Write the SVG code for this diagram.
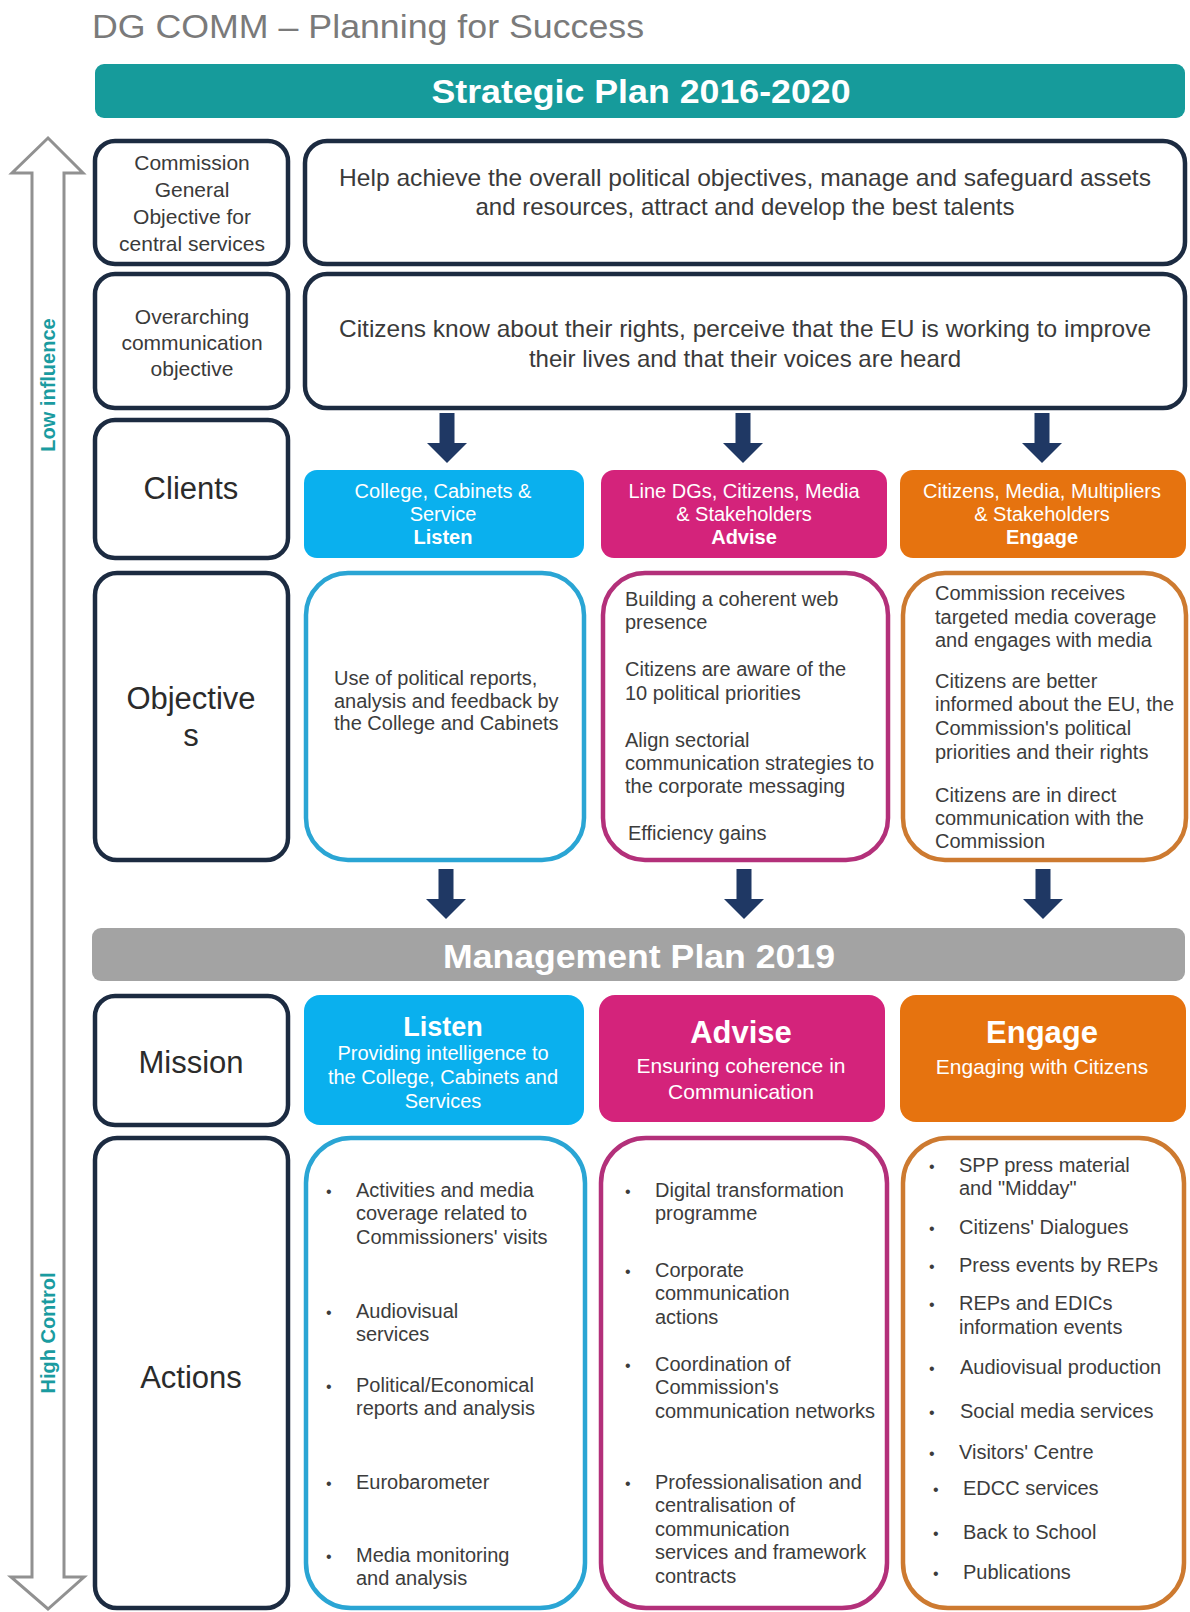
<svg xmlns="http://www.w3.org/2000/svg" xmlns:xlink="http://www.w3.org/1999/xlink" width="1190" height="1612" viewBox="0 0 1190 1612">
<style>
text{font-family:"Liberation Sans",Arial,sans-serif}
.navy{fill:#fff;stroke:#1c2b41;stroke-width:4.5}
.lbl{font-size:21px;fill:#3a3a3a;text-anchor:middle}
.big{font-size:31px;fill:#2b2b2b;text-anchor:middle}
.wide{font-size:24px;fill:#3a3a3a;text-anchor:middle}
.body{font-size:20px;fill:#3c3c3c}
.bul{font-size:16px;fill:#3c3c3c}
.wt{fill:#fff;text-anchor:middle}
.cli{font-size:20px}
.b{font-weight:bold}
.bar{font-size:33px;font-weight:bold;fill:#fff;text-anchor:middle}
.side{font-size:20px;font-weight:bold;fill:#1a9ba0;text-anchor:middle}
.arr{fill:#1f3864}
</style>
<defs>
<path id="down" d="M-7.5,0 H7.5 V30 H20 L0,50 L-20,30 H-7.5 Z"/>
</defs>
<rect x="0" y="0" width="1190" height="1612" fill="#ffffff"/>

<g id="title">
<text x="92" y="38" font-size="34" fill="#7a7a7a" textLength="552" lengthAdjust="spacingAndGlyphs">DG COMM – Planning for Success</text>
</g>

<g id="axis">
<polygon points="48,138 83,173 64,173 64,1577 84,1577 48,1609 11,1577 32,1577 32,173 12,173" fill="#fff" stroke="#919191" stroke-width="3" stroke-linejoin="miter"/>
<text class="side" transform="translate(55,385) rotate(-90)">Low influence</text>
<text class="side" transform="translate(55,1333) rotate(-90)">High Control</text>
</g>

<g id="strategic-plan">
<rect x="95" y="64" width="1090" height="54" rx="9" fill="#169b9b"/>
<text class="bar" x="641" y="103" textLength="419" lengthAdjust="spacingAndGlyphs">Strategic Plan 2016-2020</text>
</g>

<g id="general-objective-label">
<rect class="navy" x="95" y="141" width="193" height="123" rx="20"/>
<text class="lbl" x="192" y="170">Commission</text>
<text class="lbl" x="192" y="197">General</text>
<text class="lbl" x="192" y="224">Objective  for</text>
<text class="lbl" x="192" y="251">central services</text>
</g>
<g id="general-objective">
<rect class="navy" x="305" y="141" width="880" height="123" rx="22"/>
<text class="wide" x="745" y="186" textLength="812" lengthAdjust="spacingAndGlyphs">Help achieve the overall  political objectives, manage and safeguard assets</text>
<text class="wide" x="745" y="215">and resources, attract and develop the best talents</text>
</g>

<g id="communication-objective-label">
<rect class="navy" x="95" y="274" width="193" height="134" rx="20"/>
<text class="lbl" x="192" y="324">Overarching</text>
<text class="lbl" x="192" y="350">communication</text>
<text class="lbl" x="192" y="376">objective</text>
</g>
<g id="communication-objective">
<rect class="navy" x="305" y="274" width="880" height="134" rx="22"/>
<text class="wide" x="745" y="337" textLength="812" lengthAdjust="spacingAndGlyphs">Citizens know about their rights, perceive that the EU is working to improve</text>
<text class="wide" x="745" y="367">their lives and that their voices are heard</text>
</g>

<g id="clients-label">
<rect class="navy" x="95" y="420" width="193" height="138" rx="20"/>
<text class="big" x="191" y="499">Clients</text>
</g>
<g id="clients-listen">
<rect x="304" y="470" width="280" height="88" rx="13" fill="#0ab0ee"/>
<text class="wt cli" x="443" y="498">College, Cabinets &amp;</text>
<text class="wt cli" x="443" y="521">Service</text>
<text class="wt cli b" x="443" y="544">Listen</text>
</g>
<g id="clients-advise">
<rect x="601" y="470" width="286" height="88" rx="13" fill="#d4237b"/>
<text class="wt cli" x="744" y="498">Line DGs, Citizens, Media</text>
<text class="wt cli" x="744" y="521">&amp; Stakeholders</text>
<text class="wt cli b" x="744" y="544">Advise</text>
</g>
<g id="clients-engage">
<rect x="900" y="470" width="286" height="88" rx="13" fill="#e6730f"/>
<text class="wt cli" x="1042" y="498">Citizens, Media, Multipliers</text>
<text class="wt cli" x="1042" y="521">&amp; Stakeholders</text>
<text class="wt cli b" x="1042" y="544">Engage</text>
</g>

<g id="objectives-label">
<rect class="navy" x="95" y="573" width="193" height="287" rx="22"/>
<text class="big" x="191" y="709">Objective</text>
<text class="big" x="191" y="746">s</text>
</g>
<g id="objectives-listen">
<rect x="306" y="573" width="278" height="287" rx="42" fill="#fff" stroke="#2aa5d4" stroke-width="4.5"/>
<text class="body" x="334" y="685">Use of political reports,</text>
<text class="body" x="334" y="708">analysis and feedback by</text>
<text class="body" x="334" y="730">the College and Cabinets</text>
</g>
<g id="objectives-advise">
<rect x="603" y="573" width="285" height="287" rx="42" fill="#fff" stroke="#b3307a" stroke-width="4.5"/>
<text class="body" x="625" y="606">Building a coherent web</text>
<text class="body" x="625" y="629">presence</text>
<text class="body" x="625" y="676">Citizens are aware of the</text>
<text class="body" x="625" y="700">10 political priorities</text>
<text class="body" x="625" y="747">Align sectorial</text>
<text class="body" x="625" y="770">communication strategies to</text>
<text class="body" x="625" y="793">the corporate messaging</text>
<text class="body" x="628" y="840">Efficiency  gains</text>
</g>
<g id="objectives-engage">
<rect x="903" y="573" width="283" height="287" rx="42" fill="#fff" stroke="#cd7a30" stroke-width="4.5"/>
<text class="body" x="935" y="600">Commission receives</text>
<text class="body" x="935" y="624">targeted media coverage</text>
<text class="body" x="935" y="647">and engages with media</text>
<text class="body" x="935" y="688">Citizens are better</text>
<text class="body" x="935" y="711">informed about the EU, the</text>
<text class="body" x="935" y="735">Commission's political</text>
<text class="body" x="935" y="759">priorities and their rights</text>
<text class="body" x="935" y="802">Citizens are in direct</text>
<text class="body" x="935" y="825">communication with the</text>
<text class="body" x="935" y="848">Commission</text>
</g>

<g id="management-plan">
<rect x="92" y="928" width="1093" height="53" rx="9" fill="#a3a3a3"/>
<text class="bar" x="639" y="968" textLength="392" lengthAdjust="spacingAndGlyphs">Management Plan 2019</text>
</g>

<g id="mission-label">
<rect class="navy" x="95" y="996" width="193" height="129" rx="20"/>
<text class="big" x="191" y="1073">Mission</text>
</g>
<g id="mission-listen">
<rect x="304" y="995" width="280" height="130" rx="16" fill="#0ab0ee"/>
<text class="wt b" x="443" y="1036" font-size="27">Listen</text>
<text class="wt" x="443" y="1060" font-size="20">Providing intelligence to</text>
<text class="wt" x="443" y="1084" font-size="20">the College, Cabinets and</text>
<text class="wt" x="443" y="1108" font-size="20">Services</text>
</g>
<g id="mission-advise">
<rect x="599" y="995" width="286" height="127" rx="16" fill="#d4237b"/>
<text class="wt b" x="741" y="1043" font-size="31">Advise</text>
<text class="wt" x="741" y="1073" font-size="21">Ensuring coherence in</text>
<text class="wt" x="741" y="1099" font-size="21">Communication</text>
</g>
<g id="mission-engage">
<rect x="900" y="995" width="286" height="127" rx="16" fill="#e6730f"/>
<text class="wt b" x="1042" y="1043" font-size="31">Engage</text>
<text class="wt" x="1042" y="1074" font-size="21">Engaging with Citizens</text>
</g>

<g id="actions-label">
<rect class="navy" x="95" y="1138" width="193" height="470" rx="22"/>
<text class="big" x="191" y="1388">Actions</text>
</g>
<g id="actions-listen">
<rect x="306" y="1138" width="279" height="470" rx="45" fill="#fff" stroke="#2aa5d4" stroke-width="4.5"/>
<text class="bul" x="326" y="1197">•</text>
<text class="body" x="356" y="1197">Activities  and media</text>
<text class="body" x="356" y="1220">coverage related to</text>
<text class="body" x="356" y="1244">Commissioners' visits</text>
<text class="bul" x="326" y="1318">•</text>
<text class="body" x="356" y="1318">Audiovisual</text>
<text class="body" x="356" y="1341">services</text>
<text class="bul" x="326" y="1392">•</text>
<text class="body" x="356" y="1392">Political/Economical</text>
<text class="body" x="356" y="1415">reports and analysis</text>
<text class="bul" x="326" y="1489">•</text>
<text class="body" x="356" y="1489">Eurobarometer</text>
<text class="bul" x="326" y="1562">•</text>
<text class="body" x="356" y="1562">Media monitoring</text>
<text class="body" x="356" y="1585">and analysis</text>
</g>
<g id="actions-advise">
<rect x="601" y="1138" width="286" height="470" rx="45" fill="#fff" stroke="#b3307a" stroke-width="4.5"/>
<text class="bul" x="625" y="1197">•</text>
<text class="body" x="655" y="1197">Digital transformation</text>
<text class="body" x="655" y="1220">programme</text>
<text class="bul" x="625" y="1277">•</text>
<text class="body" x="655" y="1277">Corporate</text>
<text class="body" x="655" y="1300">communication</text>
<text class="body" x="655" y="1324">actions</text>
<text class="bul" x="625" y="1371">•</text>
<text class="body" x="655" y="1371">Coordination of</text>
<text class="body" x="655" y="1394">Commission's</text>
<text class="body" x="655" y="1418">communication networks</text>
<text class="bul" x="625" y="1489">•</text>
<text class="body" x="655" y="1489">Professionalisation and</text>
<text class="body" x="655" y="1512">centralisation of</text>
<text class="body" x="655" y="1536">communication</text>
<text class="body" x="655" y="1559">services and framework</text>
<text class="body" x="655" y="1583">contracts</text>
</g>
<g id="actions-engage">
<rect x="903" y="1138" width="281" height="470" rx="45" fill="#fff" stroke="#cd7a30" stroke-width="4.5"/>
<text class="bul" x="929" y="1172">•</text>
<text class="body" x="959" y="1172">SPP press material</text>
<text class="body" x="959" y="1195">and "Midday"</text>
<text class="bul" x="929" y="1234">•</text>
<text class="body" x="959" y="1234">Citizens' Dialogues</text>
<text class="bul" x="929" y="1272">•</text>
<text class="body" x="959" y="1272">Press events by REPs</text>
<text class="bul" x="929" y="1310">•</text>
<text class="body" x="959" y="1310">REPs and EDICs</text>
<text class="body" x="959" y="1334">information events</text>
<text class="bul" x="929" y="1374">•</text>
<text class="body" x="960" y="1374">Audiovisual production</text>
<text class="bul" x="929" y="1418">•</text>
<text class="body" x="960" y="1418">Social media services</text>
<text class="bul" x="929" y="1459">•</text>
<text class="body" x="959" y="1459">Visitors' Centre</text>
<text class="bul" x="933" y="1495">•</text>
<text class="body" x="963" y="1495">EDCC services</text>
<text class="bul" x="933" y="1539">•</text>
<text class="body" x="963" y="1539">Back to School</text>
<text class="bul" x="933" y="1579">•</text>
<text class="body" x="963" y="1579">Publications</text>
</g>

<g id="connectors">
<use xlink:href="#down" class="arr" x="447" y="413"/>
<use xlink:href="#down" class="arr" x="743" y="413"/>
<use xlink:href="#down" class="arr" x="1042" y="413"/>
<use xlink:href="#down" class="arr" x="446" y="869"/>
<use xlink:href="#down" class="arr" x="744" y="869"/>
<use xlink:href="#down" class="arr" x="1043" y="869"/>
</g>
</svg>
